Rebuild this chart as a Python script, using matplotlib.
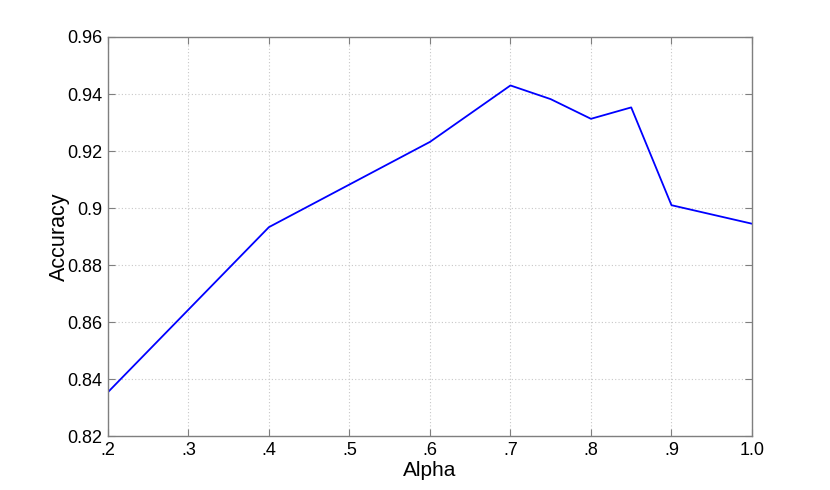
import matplotlib
matplotlib.use("Agg")
import matplotlib.pyplot as plt

# values
alpha = [0.2, 0.4, 0.6, 0.7, 0.75, 0.8, 0.85, 0.9, 1.0]
accuracy = [0.8354, 0.8933, 0.9232, 0.9430, 0.9382, 0.9313, 0.9353, 0.9010, 0.8945]
x_ticks = [0.2, 0.3, 0.4, 0.5, 0.6, 0.7, 0.8, 0.9, 1.0]
x_labels = [".2", ".3", ".4", ".5", ".6", ".7", ".8", ".9", "1.0"]
y_ticks = [0.82, 0.84, 0.86, 0.88, 0.9, 0.92, 0.94, 0.96]
y_labels = ["0.82", "0.84", "0.86", "0.88", "0.9", "0.92", "0.94", "0.96"]

plt.rcParams["font.family"] = ["Liberation Sans", "DejaVu Sans"]

fig = plt.figure(figsize=(8.3, 4.9), dpi=100)
ax = fig.add_axes([0.130, 0.110, 0.776, 0.8145])

ax.plot(alpha, accuracy, color="#0000ff", linewidth=1.3)

ax.set_xlim(0.2, 1.0)
ax.set_ylim(0.82, 0.96)
ax.set_xticks(x_ticks)
ax.set_xticklabels(x_labels)
ax.set_yticks(y_ticks)
ax.set_yticklabels(y_labels)

ax.grid(True, color="#c8c8c8", linestyle=(0, (1, 2)), linewidth=0.8)
for s in ax.spines.values():
    s.set_color("#7f7f7f")
    s.set_linewidth(1.0)
ax.tick_params(direction="in", top=True, right=True, length=5, color="#7f7f7f",
               labelsize=13, labelcolor="black")
ax.tick_params(axis="x", pad=4)
ax.tick_params(axis="y", pad=4)

ax.set_xlabel("Alpha", fontsize=15, labelpad=1.5)
ax.set_ylabel("Accuracy", fontsize=15.5, labelpad=-2)

fig.savefig("out.png", dpi=100)
